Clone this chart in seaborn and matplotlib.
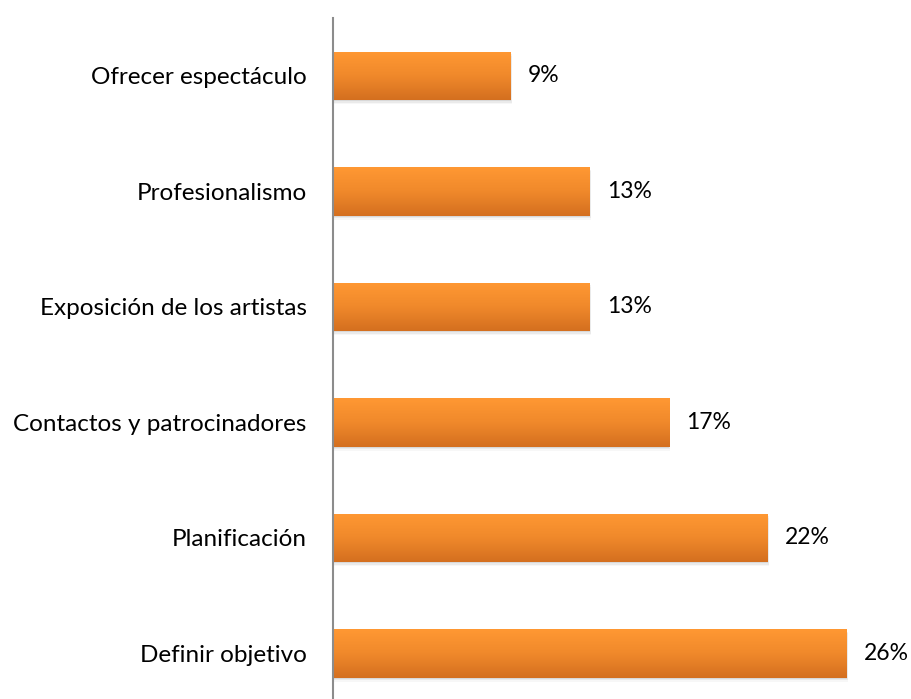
import numpy as np
import pandas as pd
import matplotlib
matplotlib.use("Agg")
import matplotlib.pyplot as plt
import seaborn as sns
from matplotlib.colors import LinearSegmentedColormap
from matplotlib.patches import Rectangle

# Data
categories = ["Ofrecer espectáculo", "Profesionalismo", "Exposición de los artistas",
              "Contactos y patrocinadores", "Planificación", "Definir objetivo"]
values = [9, 13, 13, 17, 22, 26]

df = pd.DataFrame({"categoria": categories, "pct": values})

sns.set_style("white")
plt.rcParams["font.family"] = ["Lato", "DejaVu Sans"]

fig = plt.figure(figsize=(9.12, 6.99), dpi=100)
ax = fig.add_axes([0.3651, -0.0172, 0.6349, 0.9914])

sns.barplot(data=df, x="pct", y="categoria", orient="h", width=0.42,
            color="#F08A2C", edgecolor="none", ax=ax)

# vertical gradient + soft shadow on each bar
grad = LinearSegmentedColormap.from_list("naranja", ["#FF9833", "#F0892B", "#D46F1F"])
for p in list(ax.patches):
    x0, y0 = p.get_x(), p.get_y()
    w, h = p.get_width(), p.get_height()
    for k, a in enumerate([0.07, 0.05, 0.03]):
        shadow = Rectangle((x0 + 0.02 * (k + 1), y0 + 0.012 * (k + 1)), w, h,
                           color="#000000", alpha=a, lw=0, zorder=1)
        ax.add_patch(shadow)
    im = ax.imshow(np.linspace(0, 1, 100).reshape(-1, 1), cmap=grad, aspect="auto",
                   extent=(x0, x0 + w, y0 + h, y0), zorder=2)
    im.set_clip_path(p)
    p.set_zorder(2)

for i, v in enumerate(values):
    ax.text(v + 0.85, i, f"{v}%", va="center", ha="left", fontsize=16.5, color="#000000")

ax.set_xlim(0, 29.29)
ax.set_ylim(5.5, -0.5)
ax.set_xlabel("")
ax.set_ylabel("")
ax.set_xticks([])
ax.tick_params(axis="y", length=0, pad=19, labelsize=17.5, labelcolor="#000000")
for s in ["top", "right", "bottom"]:
    ax.spines[s].set_visible(False)
ax.spines["left"].set_color("#8C8C8C")
ax.spines["left"].set_linewidth(1.5)

fig.savefig("out.png", dpi=100)
